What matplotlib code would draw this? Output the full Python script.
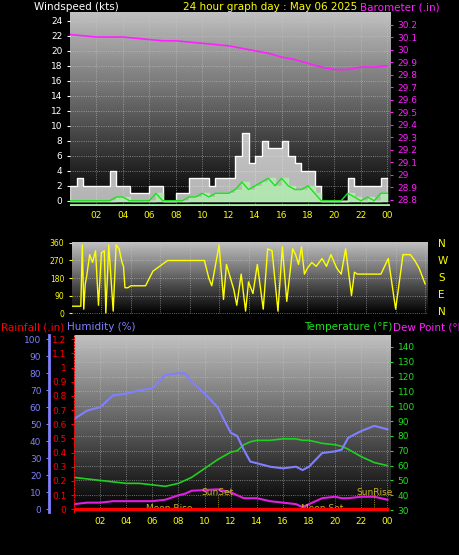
import numpy as np
import matplotlib
matplotlib.use("Agg")
import matplotlib.pyplot as plt

# --- Wind (kts), half-hourly
wind_hours = [i * 0.5 for i in range(49)]
gust = [2, 3, 2, 2, 2, 2, 4, 2, 2, 1, 1, 1, 2, 2, 0, 0, 1, 1, 3, 3, 3, 2, 3, 3, 3,
        6, 9, 5, 6, 8, 7, 7, 8, 6, 5, 4, 4, 2, 0, 0, 0, 0, 3, 2, 2, 2, 2, 3, 3]
avg_wind = [0, 0, 0, 0, 0, 0, 0, 0.5, 0.5, 0, 0, 0, 0, 1, 0, 0, 0, 0, 0.5, 0.5, 1, 0.5, 1, 1, 1,
            1.5, 2.5, 1.5, 2, 2.5, 3, 2, 3, 2, 1.5, 1.5, 2, 1, 0, 0, 0, 0, 1, 0.5, 0, 0.5, 0, 1, 1]

# --- Barometer (in), hourly
baro_hours = list(range(25))
baro = [30.12, 30.11, 30.10, 30.10, 30.10, 30.09, 30.08, 30.07, 30.07, 30.06, 30.05, 30.04, 30.03,
        30.01, 29.99, 29.97, 29.94, 29.92, 29.89, 29.86, 29.84, 29.84, 29.86, 29.86, 29.87]

# --- Wind direction (deg)
dir_hours = [0, 0.6, 0.7, 0.8, 0.9, 1.0, 1.2, 1.4, 1.6, 1.8, 2.0, 2.2, 2.3, 2.5, 2.8, 3.0, 3.2, 3.4, 3.5,
             3.6, 3.7, 3.8, 4.0, 4.3, 5.0, 5.5, 6.5, 7.0, 8.0, 9.0, 9.3, 9.5, 10.0, 10.3, 10.5, 11.0,
             11.2, 11.5, 11.8, 12.0, 12.3, 12.6, 13.0, 13.3, 13.6, 14.0, 14.3, 14.6, 15.0, 15.2, 15.4,
             15.6, 15.8, 16.0, 16.3, 16.6, 17.0, 17.3, 17.6, 18.0, 18.3, 18.6, 19.0, 19.2, 19.4, 19.6,
             20.0, 20.5, 21.0, 21.5, 22.0, 22.5, 23.0, 23.3, 23.6, 24.0]
wind_dir = [35, 35, 350, 20, 150, 190, 300, 260, 320, 40, 310, 320, 0, 350, 10, 350, 330, 260, 240,
            130, 130, 130, 140, 140, 140, 215, 270, 270, 270, 270, 180, 140, 350, 70, 250, 120,
            40, 200, 10, 160, 100, 250, 20, 330, 320, 10, 340, 60, 330, 300, 250, 340, 200, 230,
            260, 240, 280, 240, 300, 230, 200, 330, 90, 210, 200, 200, 200, 200, 200, 280, 20, 300,
            300, 270, 230, 150]

# --- Temperature / humidity / dew point
th_hours = [0, 1, 2, 3, 4, 5, 6, 7, 8, 8.5, 9, 10, 11, 12, 12.5, 13, 13.5, 14, 15, 16, 17, 17.5,
            18, 19, 20, 20.5, 21, 22, 23, 24]
humidity = [53, 58, 60, 67, 68, 70, 71, 79, 80, 80, 75, 68, 60, 45, 43, 35, 28, 27, 25, 24, 25, 23,
            25, 33, 34, 35, 42, 46, 49, 47]
temperature = [52, 51, 50, 49, 48, 48, 47, 46, 48, 50, 52, 58, 64, 69, 70, 74, 76, 77, 77, 78, 78, 77,
               77, 75, 74, 73, 71, 66, 62, 60]
dew_point = [34, 35, 35, 36, 36, 36, 36, 37, 40, 41, 43, 43.5, 44, 42, 40, 38, 38, 38, 36, 35, 34, 32,
             34, 38, 39, 38, 38, 39, 39, 37]
rain_hours = [0, 24]
rainfall = [0, 0]

xticks = [2, 4, 6, 8, 10, 12, 14, 16, 18, 20, 22, 24]
xlabels = ["02", "04", "06", "08", "10", "12", "14", "16", "18", "20", "22", "00"]

W, H = 459, 555
fig = plt.figure(figsize=(W / 100, H / 100), dpi=100, facecolor="black")
fs = 6.5


def box(x0, y0, x1, y1):
    return [x0 / W, 1 - y1 / H, (x1 - x0) / W, (y1 - y0) / H]


def style(ax, shade=True):
    ax.set_facecolor("black")
    if shade:
        grad = np.linspace(0.75, 0.0, 100).reshape(-1, 1)
        ax.imshow(grad, cmap="gray", vmin=0, vmax=1, aspect="auto",
                  extent=[0, 1, 0, 1], transform=ax.transAxes, zorder=0)
    ax.grid(True, color="#c8c8c8", linestyle=":", linewidth=0.6, alpha=0.7)
    for s in ax.spines.values():
        s.set_visible(False)


# ---------------- top panel
ax1 = fig.add_axes(box(70, 12, 390, 206))
style(ax1)
ax1.set_xlim(0, 24.2)
ax1.set_ylim(-0.7, 25.2)
ax1.fill_between(wind_hours, gust, step="post", color="#f0f0f0", alpha=0.75, zorder=2)
ax1.step(wind_hours, gust, where="post", color="white", lw=0.8, zorder=3)
ax1.fill_between(wind_hours, avg_wind, step="post", color="#b0f0b0", alpha=0.8, zorder=4)
ax1.plot(wind_hours, avg_wind, color="#20e020", lw=1, zorder=5)
ax1.axhline(-0.5, color="#a0f0a0", lw=2, zorder=5)
ax1.set_yticks(range(0, 25, 2))
ax1.set_xticks(xticks)
ax1.set_xticklabels(xlabels)
ax1.tick_params(axis="y", colors="white", labelsize=fs, length=2)
ax1.tick_params(axis="x", colors="yellow", labelsize=fs, length=0)
ax1b = ax1.twinx()
ax1b.set_ylim(28.75, 30.3)
ax1b.plot(baro_hours, baro, color="#ff20ff", lw=1.2)
ax1b.set_yticks([28.8, 28.9, 29, 29.1, 29.2, 29.3, 29.4, 29.5, 29.6, 29.7, 29.8, 29.9, 30, 30.1, 30.2])
ax1b.set_yticklabels(["28.8", "28.9", "29", "29.1", "29.2", "29.3", "29.4", "29.5", "29.6", "29.7",
                      "29.8", "29.9", "30", "30.1", "30.2"])
ax1b.tick_params(axis="y", colors="#ff20ff", labelsize=fs, length=2)
for s in ax1b.spines.values():
    s.set_visible(False)
fig.text(34 / W, 1 - 7 / H, "Windspeed (kts)", color="white", fontsize=7.5, va="center")
fig.text(270 / W, 1 - 7 / H, "24 hour graph day : May 06 2025", color="yellow", fontsize=7.5,
         va="center", ha="center")
fig.text(440 / W, 1 - 7 / H, "Barometer (.in)", color="#ff20ff", fontsize=7.5, va="center", ha="right")

# ---------------- middle panel
ax2 = fig.add_axes(box(72, 242, 428, 314))
style(ax2)
ax2.set_xlim(0, 24.2)
ax2.set_ylim(-5, 365)
ax2.plot(dir_hours, wind_dir, color="yellow", lw=1)
ax2.set_yticks([0, 90, 180, 270, 360])
ax2.set_xticks(xticks)
ax2.set_xticklabels([])
ax2.tick_params(axis="y", colors="yellow", labelsize=5.5, length=2)
ax2.tick_params(axis="x", length=0)
for i, lab in enumerate(["N", "W", "S", "E", "N"]):
    fig.text(438 / W, 1 - (244 + i * 17) / H, lab, color="yellow", fontsize=7.5, va="center")

# ---------------- bottom panel
ax3 = fig.add_axes(box(74, 335, 390, 512))
style(ax3)
ax3.set_xlim(0, 24.2)
ax3.set_ylim(28.7, 148)
ax3.plot(th_hours, temperature, color="#20d020", lw=1.2, zorder=4)
ax3.plot(th_hours, dew_point, color="#e020e0", lw=1.5, zorder=4)
ax3.set_xticks(xticks)
ax3.set_xticklabels(xlabels)
ax3.tick_params(axis="x", colors="yellow", labelsize=fs, length=0)

axh = ax3.twinx()
axr = ax3.twinx()
ax3.set_yticks(range(30, 141, 10))
ax3.yaxis.tick_right()
ax3.tick_params(axis="y", colors="#20e020", labelsize=fs, length=2)

axh.set_ylim(-1.7, 102.5)
axh.plot(th_hours, humidity, color="#8080ff", lw=1.5, zorder=5)
axh.yaxis.tick_left()
axh.spines["left"].set_position(("outward", 18))
axh.spines["left"].set_color("#8080ff")
axh.spines["left"].set_linewidth(2)
for k in ["right", "top", "bottom"]:
    axh.spines[k].set_visible(False)
axh.set_yticks(range(0, 101, 10))
axh.tick_params(axis="y", colors="#8080ff", labelsize=fs, length=2)

axr.set_ylim(-0.02, 1.23)
axr.plot(rain_hours, rainfall, color="red", lw=2.5, zorder=6)
axr.yaxis.tick_left()
axr.spines["left"].set_color("red")
axr.spines["left"].set_linestyle(":")
for k in ["right", "top", "bottom"]:
    axr.spines[k].set_visible(False)
axr.set_yticks([0, 0.1, 0.2, 0.3, 0.4, 0.5, 0.6, 0.7, 0.8, 0.9, 1, 1.1, 1.2])
axr.set_yticklabels(["0", "0.1", "0.2", "0.3", "0.4", "0.5", "0.6", "0.7", "0.8", "0.9", "1", "1.1", "1.2"])
axr.tick_params(axis="y", colors="red", labelsize=fs, length=2)

olive = "#c8b428"
for x, t, y in [(11, "SunSet", 0.115), (23, "SunRise", 0.115)]:
    axr.plot([x, x], [0, y - 0.01], color=olive, lw=0.6, ls=":")
    axr.text(x, y, t, color=olive, fontsize=fs, ha="center", va="center")
axr.text(7.3, 0.005, "Moon Rise", color=olive, fontsize=fs, ha="center", va="center")
axr.text(19, 0.005, "Moon Set", color=olive, fontsize=fs, ha="center", va="center")

fig.text(1 / W, 1 - 327 / H, "Rainfall (.in)", color="red", fontsize=7.5, va="center")
fig.text(67 / W, 1 - 327 / H, "Humidity (%)", color="#8080ff", fontsize=7.5, va="center")
fig.text(392 / W, 1 - 327 / H, "Temperature (\u00b0F)", color="#20e020", fontsize=7.5, va="center", ha="right")
fig.text(393 / W, 1 - 327 / H, "Dew Point (\u00b0F)", color="#ff20ff", fontsize=7.5, va="center")

fig.savefig("out.png", dpi=100, facecolor="black")
